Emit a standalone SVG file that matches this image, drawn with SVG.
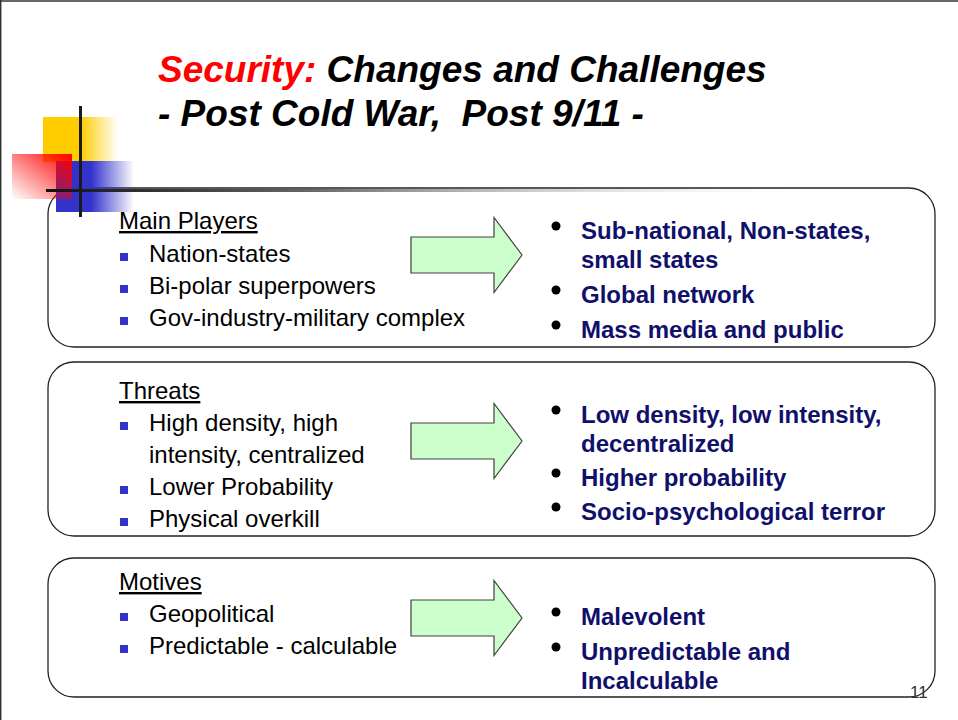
<svg xmlns="http://www.w3.org/2000/svg" width="958" height="720" viewBox="0 0 958 720">
  <style>
    .title { font-family: "Liberation Sans", Arial, sans-serif; font-size: 37px; font-weight: bold; font-style: italic; }
    .hdr { font-family: "Liberation Sans", Arial, sans-serif; font-size: 24px; fill: #000; text-decoration: underline; }
    .item { font-family: "Liberation Sans", Arial, sans-serif; font-size: 24px; fill: #000; }
    .new { font-family: "Liberation Sans", Arial, sans-serif; font-size: 24px; font-weight: bold; fill: #10106b; }
    .box { fill: #fff; stroke: #222; stroke-width: 1.3; }
    .arrow { fill: #ccffcc; stroke: #404040; stroke-width: 1.2; }
    .sq { fill: #3333cc; }
    .dot { fill: #000; }
    .pg { font-family: "Liberation Sans", Arial, sans-serif; font-size: 17px; fill: #333; }
  </style>
  <defs>
    <linearGradient id="gYellow" x1="0" y1="0" x2="1" y2="0">
      <stop offset="0" stop-color="#ffcc00"/>
      <stop offset="0.5" stop-color="#ffcc00"/>
      <stop offset="1" stop-color="#ffcc00" stop-opacity="0"/>
    </linearGradient>
    <linearGradient id="gBlue" x1="0" y1="0" x2="1" y2="0">
      <stop offset="0" stop-color="#3333cc"/>
      <stop offset="0.45" stop-color="#3333cc"/>
      <stop offset="1" stop-color="#3333cc" stop-opacity="0"/>
    </linearGradient>
    <linearGradient id="gRed" x1="1" y1="0" x2="0" y2="1">
      <stop offset="0" stop-color="#ff0000"/>
      <stop offset="1" stop-color="#ff0000" stop-opacity="0"/>
    </linearGradient>
    <linearGradient id="gRule" x1="0" y1="0" x2="1" y2="0">
      <stop offset="0" stop-color="#111"/>
      <stop offset="0.3" stop-color="#666"/>
      <stop offset="0.9" stop-color="#fff" stop-opacity="0"/>
    </linearGradient>
  </defs>

  <rect width="958" height="720" fill="#fff"/>
  <!-- slide frame -->
  <line x1="0" y1="1" x2="958" y2="1" stroke="#333" stroke-width="1.5"/>
  <line x1="0.7" y1="0" x2="0.7" y2="720" stroke="#333" stroke-width="1.5"/>

  <!-- title -->
  <g id="title">
    <text class="title" x="158" y="82"><tspan fill="#ff0000">Security:</tspan><tspan fill="#000"> Changes and Challenges</tspan></text>
    <text class="title" x="158" y="126" fill="#000" xml:space="preserve">- Post Cold War,  Post 9/11 -</text>
  </g>

  <!-- boxes -->
  <g id="box-players">
    <rect class="box" x="48" y="188" width="887" height="159" rx="26" ry="26"/>
  </g>
  <g id="box-threats">
    <rect class="box" x="48" y="362" width="887" height="174" rx="26" ry="26"/>
  </g>
  <g id="box-motives">
    <rect class="box" x="48" y="558" width="887" height="139" rx="26" ry="26"/>
  </g>

  <!-- corner logo -->
  <g id="logo">
    <rect x="43" y="117" width="75" height="45" fill="url(#gYellow)"/>
    <rect x="56" y="161" width="78" height="51" fill="url(#gBlue)"/>
    <rect x="12" y="154" width="60" height="45" fill="url(#gRed)"/>
    <rect x="46" y="189" width="880" height="3" fill="url(#gRule)"/>
    <rect x="79" y="106" width="3" height="111" fill="#1a1a1a"/>
  </g>

  <!-- Main Players -->
  <g id="players-old">
    <text class="hdr" x="119" y="229">Main Players</text>
    <rect class="sq" x="120" y="253" width="8" height="8"/>
    <text class="item" x="149" y="262">Nation-states</text>
    <rect class="sq" x="120" y="285" width="8" height="8"/>
    <text class="item" x="149" y="294">Bi-polar superpowers</text>
    <rect class="sq" x="120" y="317" width="8" height="8"/>
    <text class="item" x="149" y="326">Gov-industry-military complex</text>
  </g>
  <g id="players-new">
    <circle class="dot" cx="556" cy="226" r="4.5"/>
    <text class="new" x="581" y="239">Sub-national, Non-states,</text>
    <text class="new" x="581" y="268">small states</text>
    <circle class="dot" cx="556" cy="290" r="4.5"/>
    <text class="new" x="581" y="303">Global network</text>
    <circle class="dot" cx="556" cy="325" r="4.5"/>
    <text class="new" x="581" y="338">Mass media and public</text>
  </g>

  <!-- Threats -->
  <g id="threats-old">
    <text class="hdr" x="119" y="399">Threats</text>
    <rect class="sq" x="120" y="422" width="8" height="8"/>
    <text class="item" x="149" y="431">High density, high</text>
    <text class="item" x="149" y="463">intensity, centralized</text>
    <rect class="sq" x="120" y="486" width="8" height="8"/>
    <text class="item" x="149" y="495">Lower Probability</text>
    <rect class="sq" x="120" y="518" width="8" height="8"/>
    <text class="item" x="149" y="527">Physical overkill</text>
  </g>
  <g id="threats-new">
    <circle class="dot" cx="556" cy="410" r="4.5"/>
    <text class="new" x="581" y="423">Low density, low intensity,</text>
    <text class="new" x="581" y="452">decentralized</text>
    <circle class="dot" cx="556" cy="473" r="4.5"/>
    <text class="new" x="581" y="486">Higher probability</text>
    <circle class="dot" cx="556" cy="507" r="4.5"/>
    <text class="new" x="581" y="520">Socio-psychological terror</text>
  </g>

  <!-- Motives -->
  <g id="motives-old">
    <text class="hdr" x="119" y="590">Motives</text>
    <rect class="sq" x="120" y="613" width="8" height="8"/>
    <text class="item" x="149" y="622">Geopolitical</text>
    <rect class="sq" x="120" y="645" width="8" height="8"/>
    <text class="item" x="149" y="654">Predictable - calculable</text>
  </g>
  <g id="motives-new">
    <circle class="dot" cx="556" cy="612" r="4.5"/>
    <text class="new" x="581" y="625">Malevolent</text>
    <circle class="dot" cx="556" cy="647" r="4.5"/>
    <text class="new" x="581" y="660">Unpredictable and</text>
    <text class="new" x="581" y="689">Incalculable</text>
  </g>

  <!-- transition arrows -->
  <g id="connectors">
    <path class="arrow" transform="translate(0,255)" d="M411,-18 H494 V-37.5 L522,0 L494,37.5 V18 H411 Z"/>
    <path class="arrow" transform="translate(0,441)" d="M411,-18 H494 V-37.5 L522,0 L494,37.5 V18 H411 Z"/>
    <path class="arrow" transform="translate(0,618)" d="M411,-18 H494 V-37.5 L522,0 L494,37.5 V18 H411 Z"/>
  </g>

  <text class="pg" x="910" y="698">11</text>
</svg>
